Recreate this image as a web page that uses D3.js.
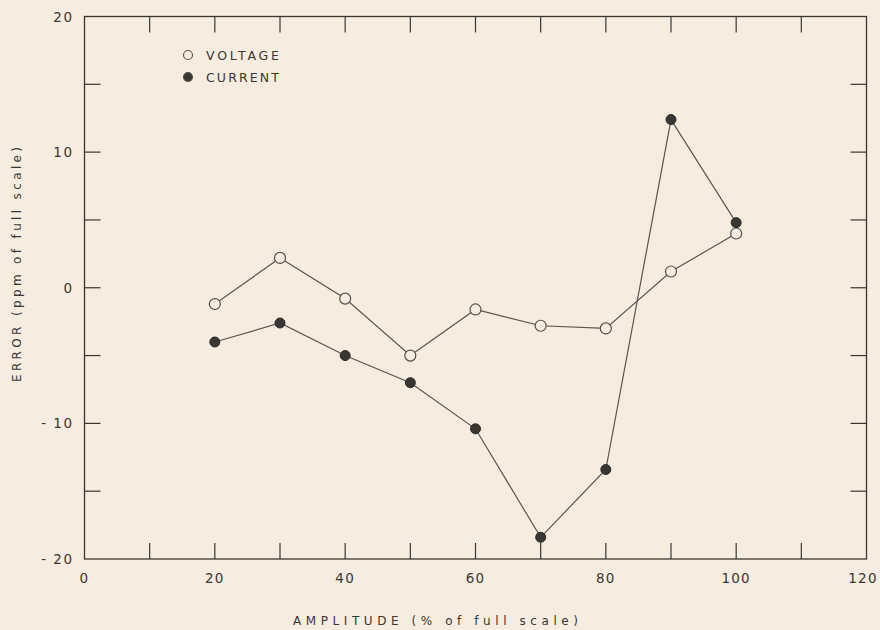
<!DOCTYPE html>
<html>
<head>
<meta charset="utf-8">
<script src="https://cdn.jsdelivr.net/npm/d3@7"></script>
<style>
  body { margin: 0; background: #f6ede0; }
  text { font-family: "DejaVu Sans", sans-serif; fill: #3a3632; }
</style>
</head>
<body>
<div id="chart"></div>
<script>
// Data
const amplitude = [20, 30, 40, 50, 60, 70, 80, 90, 100];
const voltage = [-1.2, 2.2, -0.8, -5.0, -1.6, -2.8, -3.0, 1.2, 4.0];
const current = [-4.0, -2.6, -5.0, -7.0, -10.4, -18.4, -13.4, 12.4, 4.8];
const xTicks = [0, 10, 20, 30, 40, 50, 60, 70, 80, 90, 100, 110, 120];
const xLabels = [0, 20, 40, 60, 80, 100, 120];
const yTicks = [-20, -15, -10, -5, 0, 5, 10, 15, 20];
const yLabels = [-20, -10, 0, 10, 20];

const width = 880, height = 630;
const margin = { top: 16.5, right: 13.5, bottom: 71, left: 84.5 };
const ink = "#3a3632";

const svg = d3.select("#chart").append("svg")
  .attr("width", width)
  .attr("height", height);

const x = d3.scaleLinear().domain([0, 120]).range([margin.left, width - margin.right]);
const y = d3.scaleLinear().domain([-20, 20]).range([height - margin.bottom, margin.top]);

const fmt = d => d < 0 ? "- " + Math.abs(d) : String(d);

// frame
svg.append("rect")
  .attr("x", x(0)).attr("y", y(20))
  .attr("width", x(120) - x(0)).attr("height", y(-20) - y(20))
  .attr("fill", "none").attr("stroke", ink).attr("stroke-width", 1.3);

// inward ticks on all four sides
const tl = 16;
svg.append("g").selectAll("line").data(xTicks.slice(1, -1)).join("line")
  .attr("x1", d => x(d)).attr("x2", d => x(d))
  .attr("y1", y(-20)).attr("y2", y(-20) - tl)
  .attr("stroke", ink).attr("stroke-width", 1.2);
svg.append("g").selectAll("line").data(xTicks.slice(1, -1)).join("line")
  .attr("x1", d => x(d)).attr("x2", d => x(d))
  .attr("y1", y(20)).attr("y2", y(20) + tl)
  .attr("stroke", ink).attr("stroke-width", 1.2);
svg.append("g").selectAll("line").data(yTicks.slice(1, -1)).join("line")
  .attr("x1", x(0)).attr("x2", x(0) + tl)
  .attr("y1", d => y(d)).attr("y2", d => y(d))
  .attr("stroke", ink).attr("stroke-width", 1.2);
svg.append("g").selectAll("line").data(yTicks.slice(1, -1)).join("line")
  .attr("x1", x(120)).attr("x2", x(120) - tl)
  .attr("y1", d => y(d)).attr("y2", d => y(d))
  .attr("stroke", ink).attr("stroke-width", 1.2);

// tick labels (last one nudged so it stays inside the page)
svg.append("g").selectAll("text").data(xLabels).join("text")
  .attr("x", d => Math.min(x(d), width - 17)).attr("y", y(-20) + 24)
  .attr("text-anchor", "middle")
  .attr("font-size", 13.5).attr("letter-spacing", 1.2)
  .text(fmt);
svg.append("g").selectAll("text").data(yLabels).join("text")
  .attr("x", x(0) - 11).attr("y", d => y(d) + 5)
  .attr("text-anchor", "end")
  .attr("font-size", 13.5).attr("letter-spacing", 1.5)
  .text(fmt);

// axis titles
svg.append("text")
  .attr("x", 293).attr("y", 625)
  .attr("font-size", 12).attr("textLength", 285).attr("lengthAdjust", "spacing")
  .text("AMPLITUDE (% of full scale)");
svg.append("text")
  .attr("transform", "translate(21,382) rotate(-90)")
  .attr("font-size", 12).attr("textLength", 235).attr("lengthAdjust", "spacing")
  .text("ERROR (ppm of full scale)");

// lines
const line = d3.line().x((d, i) => x(amplitude[i])).y(d => y(d));
[voltage, current].forEach(s => {
  svg.append("path").datum(s)
    .attr("d", line)
    .attr("fill", "none").attr("stroke", "#5a554f").attr("stroke-width", 1.2);
});

// markers
svg.append("g").selectAll("circle").data(voltage).join("circle")
  .attr("cx", (d, i) => x(amplitude[i])).attr("cy", d => y(d))
  .attr("r", 5.5).attr("fill", "#f6ede0").attr("stroke", "#55504b").attr("stroke-width", 1.2);
svg.append("g").selectAll("circle").data(current).join("circle")
  .attr("cx", (d, i) => x(amplitude[i])).attr("cy", d => y(d))
  .attr("r", 5).attr("fill", "#3a3632").attr("stroke", "#2a2724").attr("stroke-width", 1);

// legend
const legend = [
  { label: "VOLTAGE", fill: "#f6ede0" },
  { label: "CURRENT", fill: "#3a3632" }
];
const lg = svg.append("g");
legend.forEach((d, i) => {
  lg.append("circle")
    .attr("cx", 188).attr("cy", 55 + i * 22)
    .attr("r", 4.5).attr("fill", d.fill).attr("stroke", "#55504b").attr("stroke-width", 1.1);
  lg.append("text")
    .attr("x", 206).attr("y", 55 + i * 22 + 5)
    .attr("font-size", 12.5).attr("textLength", 73).attr("lengthAdjust", "spacing")
    .text(d.label);
});
</script>
</body>
</html>
